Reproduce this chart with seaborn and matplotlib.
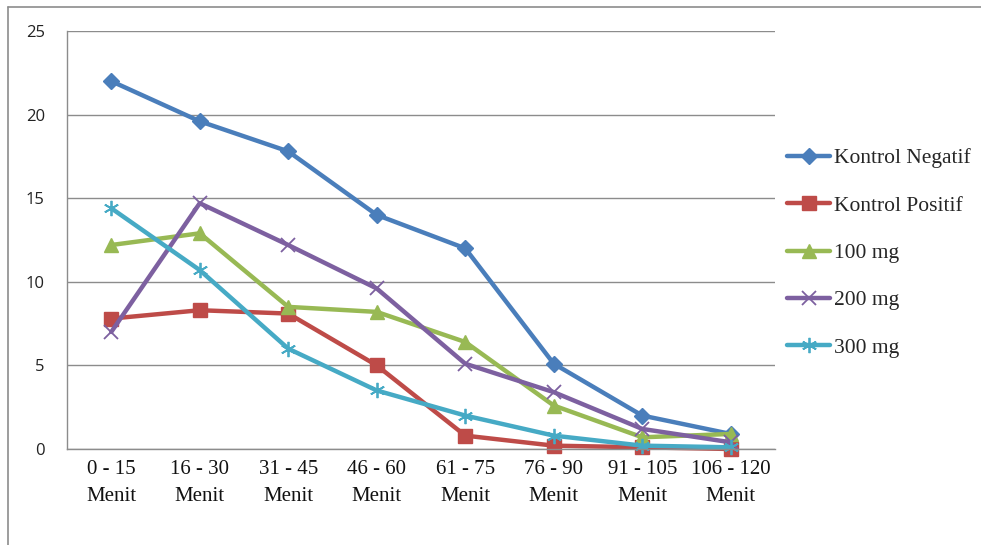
import numpy as np
import pandas as pd
import matplotlib
matplotlib.use("Agg")
import matplotlib.pyplot as plt
from matplotlib.lines import Line2D
import seaborn as sns

# Time intervals (minutes) and observed values per treatment group
categories = ["0 - 15\nMenit", "16 - 30\nMenit", "31 - 45\nMenit", "46 - 60\nMenit",
              "61 - 75\nMenit", "76 - 90\nMenit", "91 - 105\nMenit", "106 - 120\nMenit"]
kontrol_negatif = [22.0, 19.6, 17.8, 14.0, 12.0, 5.1, 2.0, 0.9]
kontrol_positif = [7.8, 8.3, 8.1, 5.0, 0.8, 0.2, 0.1, 0.0]
dosis_100 = [12.2, 12.9, 8.5, 8.2, 6.4, 2.6, 0.7, 0.9]
dosis_200 = [7.0, 14.7, 12.2, 9.6, 5.1, 3.4, 1.2, 0.4]
dosis_300 = [14.4, 10.7, 6.0, 3.5, 2.0, 0.8, 0.2, 0.1]
series_names = ["Kontrol Negatif", "Kontrol Positif", "100 mg", "200 mg", "300 mg"]
y_ticks = [0, 5, 10, 15, 20, 25]

series_values = [kontrol_negatif, kontrol_positif, dosis_100, dosis_200, dosis_300]
colors = ["#4A7EBB", "#BE4B48", "#98B954", "#7D60A0", "#46AAC5"]
markers = ["D", "s", "^", "x", (6, 2, 0)]
msizes = [8.5, 10.5, 10.5, 10, 11]
mews = [1.0, 1.0, 1.0, 1.3, 1.3]

sns.set_style("white")
fig = plt.figure(figsize=(9.81, 5.45), dpi=100)
ax = fig.add_axes([67 / 981, (545 - 449) / 545, (775 - 67) / 981, (449 - 31) / 545])

pos = np.arange(len(categories))
for name, vals, c, m, ms, mew in zip(series_names, series_values, colors, markers, msizes, mews):
    df = pd.DataFrame({"pos": pos, "val": vals})
    sns.lineplot(data=df, x="pos", y="val", ax=ax, color=c, marker=m, markersize=ms,
                 markeredgecolor=c, markerfacecolor=c, markeredgewidth=mew,
                 linewidth=3.2, label=name, clip_on=False)

ax.set_xlim(-0.5, len(categories) - 0.5)
ax.set_ylim(0, 25)
ax.set_yticks(y_ticks)
ax.set_yticklabels([str(t) for t in y_ticks], fontsize=12, family="Open Sans", color="#222222")
ax.set_xticks(pos)
ax.set_xticklabels(categories, fontsize=15, family="Liberation Serif", color="#111111",
                   linespacing=1.55)
ax.tick_params(axis="x", length=0, pad=8)
ax.tick_params(axis="y", length=0, pad=16)
ax.set_xlabel("")
ax.set_ylabel("")
ax.grid(axis="y", color="#8C8C8C", linewidth=1.0)
ax.set_axisbelow(True)
for s in ["top", "right"]:
    ax.spines[s].set_visible(False)
for s in ["left", "bottom"]:
    ax.spines[s].set_color("#8C8C8C")
    ax.spines[s].set_linewidth(1.0)

leg = ax.legend(loc="center left", bbox_to_anchor=(787 / 981, (545 - 253) / 545),
                bbox_transform=fig.transFigure, frameon=False,
                prop={"family": "Liberation Serif", "size": 15.5},
                handlelength=2.0, handletextpad=0.2, labelspacing=1.27, borderpad=0,
                borderaxespad=0)
for h in leg.legend_handles:
    h.set_linewidth(3.2)

# Chart frame (left and top edges)
fig.add_artist(Line2D([8 / 981, 8 / 981], [0, 1 - 7 / 545], transform=fig.transFigure,
                      color="#8C8C8C", linewidth=1.2))
fig.add_artist(Line2D([8 / 981, 1], [1 - 7 / 545, 1 - 7 / 545], transform=fig.transFigure,
                      color="#8C8C8C", linewidth=1.2))

fig.savefig("out.png", dpi=100)
